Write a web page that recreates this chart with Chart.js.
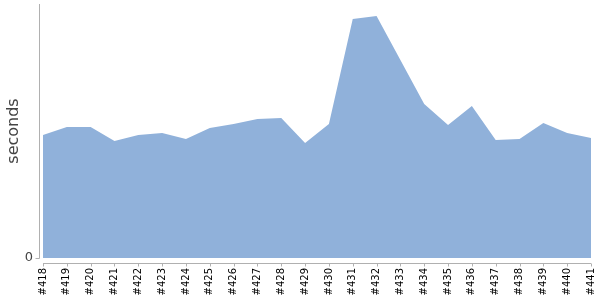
<!DOCTYPE html>
<html>
<head>
<meta charset="utf-8">
<style>
  html, body { margin: 0; padding: 0; background: #fff; }
  #wrap { width: 600px; height: 300px; }
</style>
<script src="https://cdn.jsdelivr.net/npm/chart.js@4/dist/chart.umd.min.js"></script>
</head>
<body>
<div id="wrap"><canvas id="c" width="600" height="300"></canvas></div>
<script>
const categories = ["#418","#419","#420","#421","#422","#423","#424","#425","#426","#427","#428","#429",
                    "#430","#431","#432","#433","#434","#435","#436","#437","#438","#439","#440","#441"];
const seconds = [123,131,131,117,123,125,119,130,134,139,140,115,
                 134,239,242,198,154,133,152,118,119,135,125,120];
const yTickValues = [0];
const yMax = 254;

const axisLines = {
  id: 'axisLines',
  afterDraw(chart) {
    const ctx = chart.ctx, xs = chart.scales.x, ys = chart.scales.y, ca = chart.chartArea;
    const y0 = ys.getPixelForValue(0);
    ctx.save();
    ctx.strokeStyle = '#b0b0b0';
    ctx.lineWidth = 1;
    const ax = Math.round(ca.left - 4) + 0.5;
    ctx.beginPath();
    ctx.moveTo(ax, ca.top);
    ctx.lineTo(ax, Math.round(y0) + 0.5);
    ctx.stroke();
    yTickValues.forEach(v => {
      const py = Math.round(ys.getPixelForValue(v)) + 0.5;
      ctx.beginPath();
      ctx.moveTo(ax - 4, py);
      ctx.lineTo(ax, py);
      ctx.stroke();
    });
    const ay = Math.round(y0 + 5) + 0.5;
    ctx.beginPath();
    ctx.moveTo(xs.getPixelForTick(0), ay);
    ctx.lineTo(xs.getPixelForTick(categories.length - 1), ay);
    ctx.stroke();
    for (let i = 0; i < categories.length; i++) {
      const px = Math.round(xs.getPixelForTick(i)) + 0.5;
      ctx.beginPath();
      ctx.moveTo(px, ay);
      ctx.lineTo(px, ay + 3);
      ctx.stroke();
    }
    ctx.restore();
  }
};

new Chart(document.getElementById('c'), {
  type: 'line',
  data: {
    labels: categories,
    datasets: [{
      data: seconds,
      fill: 'origin',
      backgroundColor: '#90b1da',
      borderWidth: 0,
      borderColor: 'rgba(0,0,0,0)',
      pointRadius: 0,
      tension: 0
    }]
  },
  options: {
    responsive: false,
    animation: false,
    layout: { padding: { top: 4, right: 9, left: 0, bottom: 0 } },
    plugins: { legend: { display: false }, tooltip: { enabled: false } },
    scales: {
      x: {
        type: 'category',
        offset: false,
        grid: { display: false, drawTicks: false },
        border: { display: false },
        ticks: {
          autoSkip: false,
          minRotation: 90,
          maxRotation: 90,
          padding: 10,
          color: '#000',
          font: { family: 'DejaVu Sans', size: 10 }
        },
        afterFit(scale) { scale.height = 42; scale.paddingLeft = 0; scale.paddingRight = 0; }
      },
      y: {
        min: 0,
        max: yMax,
        grid: { display: false, drawTicks: false },
        border: { display: false },
        afterBuildTicks(scale) { scale.ticks = yTickValues.map(v => ({ value: v })); },
        ticks: {
          padding: 10,
          color: '#444',
          font: { family: 'DejaVu Sans', size: 13 }
        },
        title: {
          display: true,
          text: 'seconds',
          color: '#444',
          padding: { top: 4, bottom: 0 },
          font: { family: 'DejaVu Sans', size: 16 }
        },
        afterFit(scale) { scale.width = 43; scale.paddingTop = 0; scale.paddingBottom = 0; }
      }
    }
  },
  plugins: [axisLines]
});
</script>
</body>
</html>
